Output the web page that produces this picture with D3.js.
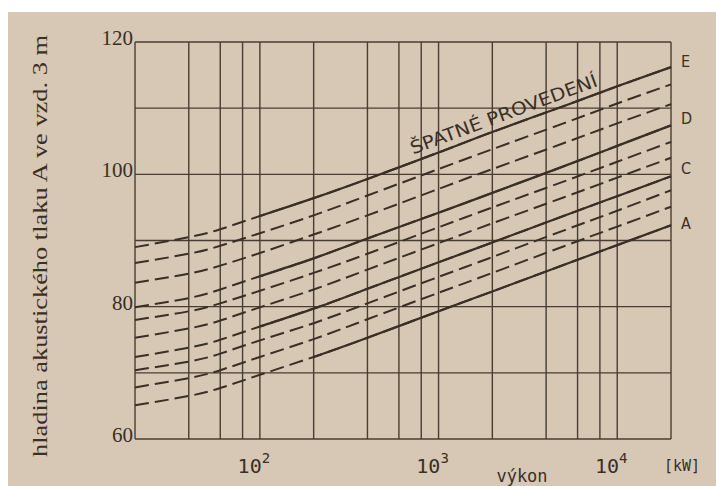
<!DOCTYPE html>
<html>
<head>
<meta charset="utf-8">
<script src="https://cdn.jsdelivr.net/npm/d3@7"></script>
<style>
  html, body { margin: 0; padding: 0; background: #ffffff; }
  svg { display: block; }
</style>
</head>
<body>
<div id="chart"></div>
<script>
var powers = [20, 40, 60, 100, 200, 400, 1000, 2000, 5000, 10000, 20000];

// sound pressure level (dB A at 3 m), top curve to bottom curve
var lineE  = [89.0, 90.5, 91.7, 93.7, 96.4, 99.3, 103.3, 106.4, 110.3, 113.3, 116.2];
var dash1  = [86.6, 88.0, 89.2, 91.1, 93.8, 96.8, 100.8, 103.8, 107.7, 110.7, 113.6];
var dash2  = [83.6, 85.0, 86.2, 88.1, 90.9, 93.8, 97.8, 100.8, 104.7, 107.7, 110.6];
var lineD  = [79.9, 81.3, 82.6, 84.6, 87.3, 90.3, 94.2, 97.2, 101.2, 104.3, 107.4];
var dash3  = [78.0, 79.3, 80.5, 82.4, 85.1, 88.0, 92.0, 95.0, 98.9, 101.9, 104.9];
var dash4  = [75.3, 76.7, 77.9, 79.9, 82.6, 85.6, 89.6, 92.6, 96.5, 99.5, 102.5];
var lineC  = [72.4, 73.8, 75.0, 77.0, 79.7, 82.7, 86.7, 89.7, 93.7, 96.7, 99.7];
var dash5  = [70.4, 71.7, 72.9, 74.9, 77.5, 80.5, 84.5, 87.5, 91.5, 94.5, 97.6];
var dash6  = [67.8, 69.2, 70.4, 72.4, 75.1, 78.1, 82.1, 85.1, 89.1, 92.1, 95.1];
var lineA  = [65.1, 66.5, 67.7, 69.7, 72.4, 75.3, 79.3, 82.3, 86.3, 89.3, 92.3];

// grid
var xGrid = [20, 40, 60, 80, 100, 200, 400, 600, 800, 1000, 2000, 4000, 6000, 8000, 10000, 20000];
var yGrid = [60, 70, 80, 90, 100, 110, 120];
var yTickLabels = [60, 80, 100, 120];
var xDecades = [{v: 100, e: "2"}, {v: 1000, e: "3"}, {v: 10000, e: "4"}];

var series = [
	{values: lineE, solidFrom: 100, label: "E"},
	{values: dash1},
	{values: dash2},
	{values: lineD, solidFrom: 100, label: "D"},
	{values: dash3},
	{values: dash4},
	{values: lineC, solidFrom: 100, label: "C"},
	{values: dash5},
	{values: dash6},
	{values: lineA, solidFrom: 200, label: "A"}
];

var W = 716, H = 486;
var ink = "#3a2f26";
var paper = "#d6c8b4";
var m = {left: 135, right: 45, top: 42, bottom: 47};

var svg = d3.select("#chart").append("svg")
	.attr("width", W)
	.attr("height", H);

// scanned page: beige with white strip top and left
svg.append("rect").attr("x", 0).attr("y", 0).attr("width", W).attr("height", H).attr("fill", "#ffffff");
svg.append("rect").attr("x", 8).attr("y", 12).attr("width", W - 8).attr("height", H - 12).attr("fill", paper);

var x = d3.scaleLog().domain([20, 20000]).range([m.left, W - m.right]);
var y = d3.scaleLinear().domain([60, 120]).range([H - m.bottom, m.top]);

// grid lines
var grid = svg.append("g").attr("stroke", ink).attr("stroke-width", 1.4).attr("opacity", 0.9);
grid.selectAll("line.v").data(xGrid).enter().append("line")
	.attr("class", "v")
	.attr("x1", function(d) { return x(d); })
	.attr("x2", function(d) { return x(d); })
	.attr("y1", y(60))
	.attr("y2", y(120));
grid.selectAll("line.h").data(yGrid).enter().append("line")
	.attr("class", "h")
	.attr("x1", x(20))
	.attr("x2", x(20000))
	.attr("y1", function(d) { return y(d); })
	.attr("y2", function(d) { return y(d); });

// curves
var line = d3.line()
	.x(function(d) { return x(d[0]); })
	.y(function(d) { return y(d[1]); })
	.curve(d3.curveNatural);

var curves = svg.append("g").attr("fill", "none").attr("stroke", ink).attr("stroke-width", 2);

series.forEach(function(s) {
	var pts = powers.map(function(p, i) { return [p, s.values[i]]; });
	if (s.solidFrom) {
		// left part dashed, then solid from solidFrom
		var full = curves.append("path").attr("d", line(pts)).attr("stroke-dasharray", "14,6");
		var node = full.node();
		var total = node.getTotalLength();
		// find length at which the curve reaches x(solidFrom)
		var lo = 0, hi = total, xs = x(s.solidFrom);
		for (var k = 0; k < 30; k++) {
			var mid = (lo + hi) / 2;
			if (node.getPointAtLength(mid).x < xs) lo = mid; else hi = mid;
		}
		curves.append("path").attr("d", line(pts))
			.attr("stroke-width", 2.2)
			.attr("stroke-dasharray", "0," + lo + "," + (total - lo + 1) + ",0");
	} else {
		curves.append("path").attr("d", line(pts)).attr("stroke-dasharray", "14,6");
	}
});

// curve names at right edge
var labelDy = {E: -6, D: -7, C: -8, A: -2};
svg.selectAll("text.curve").data(series.filter(function(s) { return s.label; })).enter().append("text")
	.attr("class", "curve")
	.attr("x", x(20000) + 10)
	.attr("y", function(s) { return y(s.values[s.values.length - 1]) + labelDy[s.label]; })
	.attr("dy", "0.35em")
	.style("font-family", "'DejaVu Sans Condensed', 'Liberation Sans Narrow', sans-serif")
	.style("font-size", "16px")
	.style("fill", ink)
	.text(function(s) { return s.label; });

// "ŠPATNÉ PROVEDENÍ" along the top curve
var p0 = [x(1000), y(lineE[6])], p1 = [x(10000), y(lineE[9])];
var ang = Math.atan2(p1[1] - p0[1], p1[0] - p0[0]) * 180 / Math.PI;
var tx = x(720), ty = y(101.8) - 8;
svg.append("text")
	.attr("transform", "translate(" + tx + "," + ty + ") rotate(" + ang + ")")
	.attr("textLength", 198)
	.attr("lengthAdjust", "spacingAndGlyphs")
	.style("font-family", "'DejaVu Sans Condensed', 'Liberation Sans Narrow', sans-serif")
	.style("font-size", "18px")
	.style("fill", ink)
	.text("ŠPATNÉ PROVEDENÍ");

// y tick labels
svg.selectAll("text.ytick").data(yTickLabels).enter().append("text")
	.attr("class", "ytick")
	.attr("x", m.left - 2)
	.attr("y", function(d) { return y(d) + 3; })
	.attr("text-anchor", "end")
	.style("font-family", "'Liberation Serif', 'DejaVu Serif', serif")
	.style("font-size", "21px")
	.style("fill", ink)
	.text(function(d) { return d; });

// x decade labels
var xt = svg.selectAll("text.xtick").data(xDecades).enter().append("text")
	.attr("class", "xtick")
	.attr("x", function(d) { return x(d.v) - 6; })
	.attr("y", H - 13)
	.attr("text-anchor", "middle")
	.style("font-family", "'DejaVu Sans Mono', 'Liberation Mono', monospace")
	.style("font-size", "20px")
	.style("fill", ink);
xt.append("tspan").text("10");
xt.append("tspan").attr("dy", -10).style("font-size", "14px").text(function(d) { return d.e; });

svg.append("text")
	.attr("x", 682)
	.attr("y", H - 15)
	.attr("text-anchor", "middle")
	.style("font-family", "'DejaVu Sans Mono', 'Liberation Mono', monospace")
	.style("font-size", "15px")
	.style("fill", ink)
	.text("[kW]");

svg.append("text")
	.attr("x", 522)
	.attr("y", H - 4)
	.attr("text-anchor", "middle")
	.style("font-family", "'DejaVu Sans Mono', 'Liberation Mono', monospace")
	.style("font-size", "17px")
	.style("fill", ink)
	.text("výkon");

// y axis title
svg.append("text")
	.attr("transform", "translate(47," + 246 + ") rotate(-90)")
	.attr("text-anchor", "middle")
	.attr("textLength", 422)
	.attr("lengthAdjust", "spacingAndGlyphs")
	.style("font-family", "'Liberation Serif', 'DejaVu Serif', serif")
	.style("font-size", "22px")
	.style("fill", ink)
	.text("hladina akustického tlaku A ve vzd. 3 m");
</script>
</body>
</html>
